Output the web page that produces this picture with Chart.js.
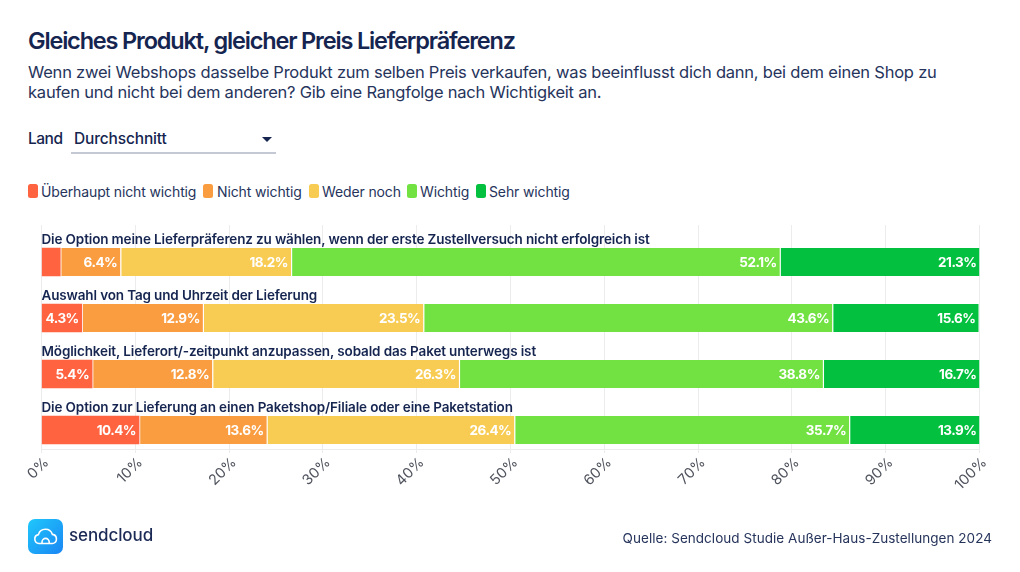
<!DOCTYPE html>
<html lang="de">
<head>
    <meta charset="UTF-8">
    <title>Gleiches Produkt, gleicher Preis Lieferpräferenz</title>
    <script src="https://cdn.jsdelivr.net/npm/chart.js"></script>
    <style>
        html, body { margin: 0; padding: 0; background: #fff; }
        body { position: relative; width: 1020px; height: 572px; overflow: hidden; font-family: Inter, sans-serif; color: #152550; }
        #chart { position: absolute; left: 0; top: 0; }
        .abs { position: absolute; white-space: nowrap; }
        .title { left: 28px; top: 25px; font-size: 23.5px; line-height: 32px; font-weight: 600; letter-spacing: -1.17px; }
        .sub { left: 28px; top: 62px; font-size: 16.5px; line-height: 20px; letter-spacing: -0.22px; color: #26345c; }
        .land { left: 28px; top: 129px; font-size: 15.5px; line-height: 19px; font-weight: 500; letter-spacing: -0.5px; }
        .drop { left: 74px; top: 129px; font-size: 15.5px; line-height: 19px; font-weight: 500; letter-spacing: -0.15px; }
        .caret { left: 262px; top: 137px; width: 0; height: 0; border-left: 5.5px solid transparent; border-right: 5.5px solid transparent; border-top: 5px solid #152550; }
        .line { left: 71px; top: 152px; width: 205px; height: 2px; background: #c5c9d3; }
        .swatch { position: absolute; top: 184px; width: 10px; height: 14px; border-radius: 2.5px; }
        .leg { position: absolute; top: 183px; font-size: 14px; line-height: 17px; letter-spacing: -0.13px; color: #26345c; white-space: nowrap; }
        .logo { left: 28px; top: 519px; width: 35px; height: 35px; }
        .brand { left: 69px; top: 524px; font-size: 17px; line-height: 22px; font-weight: 500; letter-spacing: -0.1px; color: #1b2a55; }
        .source { right: 28px; top: 530px; font-size: 13.5px; line-height: 17px; letter-spacing: 0.04px; color: #26345c; }
    </style>
</head>
<body>
    <div class="abs title">Gleiches Produkt, gleicher Preis Lieferpräferenz</div>
    <div class="abs sub">Wenn zwei Webshops dasselbe Produkt zum selben Preis verkaufen, was beeinflusst dich dann, bei dem einen Shop zu<br>kaufen und nicht bei dem anderen? Gib eine Rangfolge nach Wichtigkeit an.</div>
    <div class="abs land">Land</div>
    <div class="abs drop">Durchschnitt</div>
    <div class="abs caret"></div>
    <div class="abs line"></div>
    <div id="legend"></div>
    <canvas id="chart" width="1020" height="572"></canvas>
    <svg class="abs logo" viewBox="0 0 35 35">
        <defs>
            <linearGradient id="lg" x1="0" y1="0" x2="1" y2="1">
                <stop offset="0" stop-color="#1fc8fb"/>
                <stop offset="1" stop-color="#1a86f4"/>
            </linearGradient>
        </defs>
        <rect width="35" height="35" rx="7" fill="url(#lg)"/>
        <path d="M11 24.5a4.5 4.5 0 0 1-.6-8.9 7.3 7.3 0 0 1 14-.2 4.6 4.6 0 0 1 .2 9.1z" fill="none" stroke="#fff" stroke-width="1.6" stroke-linejoin="round"/>
        <path d="M14 24.5v-1.5a3.6 3.6 0 0 1 7.2 0v1.5" fill="none" stroke="#fff" stroke-width="1.6"/>
    </svg>
    <div class="abs brand">sendcloud</div>
    <div class="abs source">Quelle: Sendcloud Studie Außer-Haus-Zustellungen 2024</div>

    <script>
        // Data
        const questions = [
            'Die Option meine Lieferpräferenz zu wählen, wenn der erste Zustellversuch nicht erfolgreich ist',
            'Auswahl von Tag und Uhrzeit der Lieferung',
            'Möglichkeit, Lieferort/-zeitpunkt anzupassen, sobald das Paket unterwegs ist',
            'Die Option zur Lieferung an einen Paketshop/Filiale oder eine Paketstation'
        ];
        const seriesNames = ['Überhaupt nicht wichtig', 'Nicht wichtig', 'Weder noch', 'Wichtig', 'Sehr wichtig'];
        const ueberhauptNicht = [2.0, 4.3, 5.4, 10.4];
        const nichtWichtig = [6.4, 12.9, 12.8, 13.6];
        const wederNoch = [18.2, 23.5, 26.3, 26.4];
        const wichtig = [52.1, 43.6, 38.8, 35.7];
        const sehrWichtig = [21.3, 15.6, 16.7, 13.9];
        const seriesColors = ['#ff6340', '#fa9d41', '#f8cb52', '#72e243', '#03c13e'];
        const legendSwatchX = [28, 203, 309, 407, 476];
        const legendTextX = [41, 217, 322, 420, 489];

        // Legend
        const legendBox = document.getElementById('legend');
        seriesNames.forEach((name, i) => {
            const sw = document.createElement('div');
            sw.className = 'swatch';
            sw.style.left = legendSwatchX[i] + 'px';
            sw.style.background = seriesColors[i];
            legendBox.appendChild(sw);
            const txt = document.createElement('div');
            txt.className = 'leg';
            txt.style.left = legendTextX[i] + 'px';
            txt.textContent = name;
            legendBox.appendChild(txt);
        });

        // Question text above the bars and value labels inside them
        const rowLabels = {
            id: 'rowLabels',
            afterDatasetsDraw(chart) {
                const ctx = chart.ctx;
                const yScale = chart.scales.y;
                ctx.save();
                ctx.textBaseline = 'middle';
                ctx.fillStyle = '#152550';
                ctx.textAlign = 'left';
                ctx.font = '600 13.5px Inter, sans-serif';
                ctx.letterSpacing = '-0.14px';
                questions.forEach((q, i) => {
                    ctx.fillText(q, chart.chartArea.left, yScale.getPixelForValue(i) - 22);
                });
                ctx.fillStyle = '#fff';
                ctx.textAlign = 'right';
                ctx.font = '700 13.5px Inter, sans-serif';
                ctx.letterSpacing = '-0.5px';
                chart.data.datasets.forEach((ds, d) => {
                    chart.getDatasetMeta(d).data.forEach((bar, i) => {
                        const v = ds.data[i].x;
                        if (v < 3) return; // too narrow for a label
                        ctx.fillText(v.toFixed(1) + '%', bar.x - 3, bar.y + 0.5);
                    });
                });
                ctx.restore();
            }
        };

        const allSeries = [ueberhauptNicht, nichtWichtig, wederNoch, wichtig, sehrWichtig];

        const chart = new Chart(document.getElementById('chart'), {
            type: 'bar',
            data: {
                datasets: allSeries.map((values, s) => ({
                    label: seriesNames[s],
                    data: values.map((v, i) => ({ x: v, y: i })),
                    backgroundColor: seriesColors[s],
                    borderColor: '#fff',
                    borderWidth: s === 0 ? 0 : { left: 1.5 },
                    borderSkipped: false,
                    barThickness: 28
                }))
            },
            options: {
                indexAxis: 'y',
                responsive: false,
                animation: false,
                layout: { padding: { left: 41.5, right: 40.5, top: 225, bottom: 0 } },
                plugins: {
                    legend: { display: false },
                    title: { display: false },
                    tooltip: { enabled: false }
                },
                scales: {
                    x: {
                        type: 'linear',
                        stacked: true,
                        min: 0,
                        max: 100,
                        afterFit(scale) { scale.height = 123; },
                        grid: { color: '#ececec', lineWidth: 1, tickLength: 4 },
                        border: { color: '#ececec' },
                        ticks: {
                            stepSize: 10,
                            maxRotation: 45,
                            minRotation: 45,
                            padding: 1,
                            labelOffset: 5,
                            color: '#50545e',
                            font: { family: 'Inter, sans-serif', size: 14.5 },
                            callback: value => value + '%'
                        }
                    },
                    y: {
                        type: 'linear',
                        display: false,
                        stacked: true,
                        offset: false,
                        reverse: true,
                        min: -0.66,
                        max: 3.34
                    }
                }
            },
            plugins: [rowLabels]
        });
    </script>
</body>
</html>
